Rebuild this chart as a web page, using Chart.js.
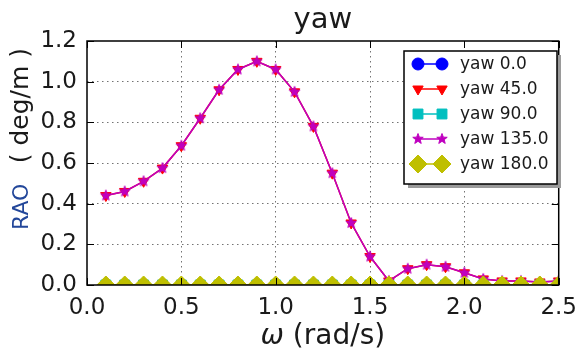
<!DOCTYPE html>
<html>
<head>
<meta charset="utf-8">
<script src="https://cdn.jsdelivr.net/npm/chart.js@4/dist/chart.umd.min.js"></script>
<style>
  html, body { margin: 0; padding: 0; background: #fff; }
  #wrap { width: 586px; height: 352px; }
</style>
</head>
<body>
<div id="wrap"><canvas id="rao-chart" width="586" height="352"></canvas></div>
<script>
// frequencies (rad/s)
const omega = [0.1, 0.2, 0.3, 0.4, 0.5, 0.6, 0.7, 0.8, 0.9, 1.0, 1.1, 1.2, 1.3,
  1.4, 1.5, 1.6, 1.7, 1.8, 1.9, 2.0, 2.1, 2.2, 2.3, 2.4, 2.5];

// yaw RAO per heading (deg/m)
const yaw0 = [0, 0, 0, 0, 0, 0, 0, 0, 0, 0, 0, 0, 0, 0, 0, 0, 0, 0, 0, 0, 0, 0, 0, 0, 0];
const yaw45 = [0.44, 0.46, 0.51, 0.575, 0.685, 0.82, 0.96, 1.06, 1.10, 1.06, 0.95, 0.78, 0.55,
  0.305, 0.14, 0.02, 0.08, 0.10, 0.09, 0.06, 0.03, 0.02, 0.02, 0.015, 0.02];
const yaw90 = [0, 0, 0, 0, 0, 0, 0, 0, 0, 0, 0, 0, 0, 0, 0, 0, 0, 0, 0, 0, 0, 0, 0, 0, 0];
const yaw135 = [0.44, 0.46, 0.51, 0.575, 0.685, 0.82, 0.96, 1.06, 1.10, 1.06, 0.95, 0.78, 0.55,
  0.305, 0.14, 0.02, 0.08, 0.10, 0.09, 0.06, 0.03, 0.02, 0.02, 0.015, 0.02];
const yaw180 = [0, 0, 0, 0, 0, 0, 0, 0, 0, 0, 0, 0, 0, 0, 0, 0, 0, 0, 0, 0, 0, 0, 0, 0, 0];

const seriesLabels = ["yaw 0.0", "yaw 45.0", "yaw 90.0", "yaw 135.0", "yaw 180.0"];
const xTicks = [0.0, 0.5, 1.0, 1.5, 2.0, 2.5];
const yTicks = [0.0, 0.2, 0.4, 0.6, 0.8, 1.0, 1.2];

const FONT = "'DejaVu Sans', sans-serif";
const TEXT = "#1a1a1a";

// matplotlib-like filled star marker
function starMarker(r, color) {
  const c = document.createElement("canvas");
  const s = Math.ceil(r * 2 + 3);
  c.width = s;
  c.height = s;
  const g = c.getContext("2d");
  g.beginPath();
  for (let i = 0; i < 10; i++) {
    const rr = i % 2 === 0 ? r : r * 0.42;
    const a = -Math.PI / 2 + (i * Math.PI) / 5;
    g.lineTo(s / 2 + rr * Math.cos(a), s / 2 + rr * Math.sin(a));
  }
  g.closePath();
  g.fillStyle = color;
  g.fill();
  g.strokeStyle = color;
  g.lineWidth = 1;
  g.stroke();
  return c;
}

function pts(ys) {
  return omega.map((x, i) => ({ x: x, y: ys[i] }));
}

const styles = [
  { color: "#0000ff", pointStyle: "circle", radius: 6, rotation: 0 },
  { color: "#ff0000", pointStyle: "triangle", radius: 6, rotation: 180 },
  { color: "#00bfbf", pointStyle: "rect", radius: 7, rotation: 0 },
  { color: "#bf00bf", pointStyle: starMarker(5.5, "#bf00bf"), radius: 5, rotation: 0 },
  { color: "#bfbf00", pointStyle: "rectRot", radius: 9, rotation: 0 },
];
const seriesData = [yaw0, yaw45, yaw90, yaw135, yaw180];

const datasets = seriesData.map((ys, i) => ({
  label: seriesLabels[i],
  data: pts(ys),
  borderColor: styles[i].color,
  backgroundColor: styles[i].color,
  borderWidth: 1.5,
  pointStyle: styles[i].pointStyle,
  pointRadius: styles[i].radius,
  pointRotation: styles[i].rotation,
  pointBackgroundColor: styles[i].color,
  pointBorderColor: styles[i].color,
  pointBorderWidth: 1,
  tension: 0,
  clip: 0,
  order: 5 - i,
}));

const frameAndLegend = {
  id: "frameAndLegend",
  afterDraw(chart) {
    const ctx = chart.ctx;
    const a = chart.chartArea;
    const xs = chart.scales.x;
    const ys = chart.scales.y;
    const cx = (a.left + a.right) / 2;
    ctx.save();

    // inward ticks on all four sides
    ctx.strokeStyle = "#000";
    ctx.lineWidth = 1;
    ctx.beginPath();
    xTicks.forEach((v) => {
      const px = Math.round(xs.getPixelForValue(v)) + 0.5;
      ctx.moveTo(px, a.bottom);
      ctx.lineTo(px, a.bottom - 7);
      ctx.moveTo(px, a.top);
      ctx.lineTo(px, a.top + 7);
    });
    yTicks.forEach((v) => {
      const py = Math.round(ys.getPixelForValue(v)) + 0.5;
      ctx.moveTo(a.left, py);
      ctx.lineTo(a.left + 7, py);
      ctx.moveTo(a.right, py);
      ctx.lineTo(a.right - 7, py);
    });
    ctx.stroke();

    // frame
    ctx.lineWidth = 1.5;
    ctx.strokeRect(a.left, a.top, a.right - a.left, a.bottom - a.top);

    // title
    ctx.fillStyle = TEXT;
    ctx.textBaseline = "alphabetic";
    ctx.textAlign = "center";
    ctx.font = "29px " + FONT;
    ctx.fillText("yaw", cx, 28);

    // x axis title: italic omega + units
    ctx.textAlign = "left";
    const omFont = "italic 28px " + FONT;
    const unitFont = "28px " + FONT;
    ctx.font = omFont;
    const wOm = ctx.measureText("\u03c9").width;
    ctx.font = unitFont;
    const wUnit = ctx.measureText(" (rad/s)").width;
    const x0 = cx - (wOm + wUnit) / 2;
    ctx.font = omFont;
    ctx.fillText("\u03c9", x0, 344);
    ctx.font = unitFont;
    ctx.fillText(" (rad/s)", x0 + wOm, 344);

    // y axis title
    ctx.save();
    ctx.translate(28, 230);
    ctx.rotate(-Math.PI / 2);
    ctx.textAlign = "left";
    ctx.font = "22px " + FONT;
    ctx.fillStyle = "#23479a";
    ctx.fillText("RAO", 0, 0);
    ctx.fillStyle = TEXT;
    ctx.textAlign = "right";
    ctx.font = "25px " + FONT;
    ctx.fillText("( deg/m )", 182, 0);
    ctx.restore();

    // legend
    const lx = 404, ly = 51, lw = 153, lh = 133;
    ctx.fillStyle = "#9a9a9a";
    ctx.fillRect(lx + 4, ly + 4, lw, lh);
    ctx.fillStyle = "#fff";
    ctx.fillRect(lx, ly, lw, lh);
    ctx.strokeStyle = "#000";
    ctx.lineWidth = 1.5;
    ctx.strokeRect(lx, ly, lw, lh);

    const rowY = [64, 89, 114, 139, 164];
    ctx.font = "17px " + FONT;
    ctx.textAlign = "left";
    ctx.textBaseline = "middle";
    styles.forEach((s, i) => {
      const y = rowY[i];
      ctx.strokeStyle = s.color;
      ctx.lineWidth = 1.5;
      ctx.beginPath();
      ctx.moveTo(418, y);
      ctx.lineTo(442, y);
      ctx.stroke();
      ctx.fillStyle = s.color;
      ctx.lineWidth = 1;
      [418, 442].forEach((mx) => {
        Chart.helpers.drawPoint(ctx, {
          pointStyle: s.pointStyle,
          radius: s.radius,
          rotation: s.rotation,
          borderWidth: 1,
        }, mx, y);
      });
      ctx.fillStyle = TEXT;
      ctx.fillText(seriesLabels[i], 460, y + 1);
    });

    ctx.restore();
  },
};

new Chart(document.getElementById("rao-chart").getContext("2d"), {
  type: "line",
  data: { datasets: datasets },
  options: {
    responsive: false,
    animation: false,
    devicePixelRatio: 1,
    layout: { padding: { left: 0, right: 19, top: 41, bottom: 0 } },
    plugins: {
      legend: { display: false },
      tooltip: { enabled: false },
      title: { display: false },
    },
    scales: {
      x: {
        type: "linear",
        min: 0,
        max: 2.5,
        afterBuildTicks: (s) => { s.ticks = xTicks.map((v) => ({ value: v })); },
        afterFit: (s) => { s.height = 67; },
        ticks: {
          autoSkip: false,
          maxRotation: 0,
          padding: 9,
          color: TEXT,
          font: { family: FONT, size: 23 },
          callback: (v) => Number(v).toFixed(1),
        },
        grid: {
          drawTicks: false,
          lineWidth: 1,
          color: (c) => (c.tick && (c.tick.value === 0 || c.tick.value === 2.5)
            ? "rgba(0,0,0,0)" : "rgba(0,0,0,0.55)"),
        },
        border: { display: false, dash: [1.5, 3.5] },
      },
      y: {
        type: "linear",
        min: 0,
        max: 1.2,
        afterBuildTicks: (s) => { s.ticks = yTicks.map((v) => ({ value: v })); },
        afterFit: (s) => { s.width = 87; },
        ticks: {
          autoSkip: false,
          padding: 10,
          color: TEXT,
          font: { family: FONT, size: 23 },
          callback: (v) => Number(v).toFixed(1),
        },
        grid: {
          drawTicks: false,
          lineWidth: 1,
          color: (c) => (c.tick && (c.tick.value === 0 || c.tick.value === 1.2)
            ? "rgba(0,0,0,0)" : "rgba(0,0,0,0.55)"),
        },
        border: { display: false, dash: [1.5, 3.5] },
      },
    },
  },
  plugins: [frameAndLegend],
});
</script>
</body>
</html>
